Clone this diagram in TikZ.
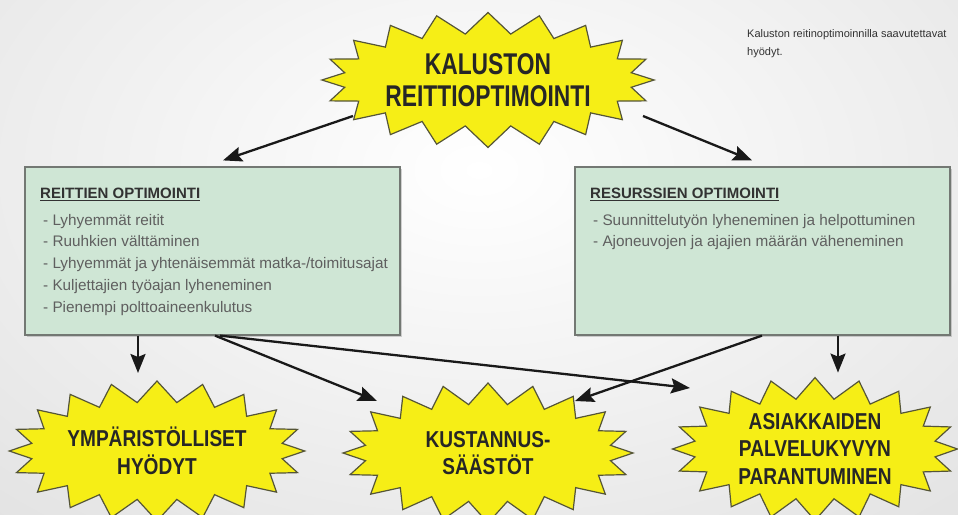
\documentclass[tikz,border=0pt]{standalone}
\usepackage{fontspec}
\setmainfont{Liberation Sans}
\newfontfamily\burstfont[FakeStretch=0.76]{Liberation Sans}
\newfontfamily\burstfontb[FakeStretch=0.83]{Liberation Sans}
\usetikzlibrary{shapes.symbols,arrows.meta,calc,shadows}
\definecolor{burstyellow}{RGB}{246,238,22}
\definecolor{burstline}{RGB}{85,85,55}
\definecolor{boxgreen}{RGB}{207,230,213}
\definecolor{boxline}{RGB}{115,120,115}
\definecolor{itemgray}{RGB}{95,95,95}
\definecolor{titlegray}{RGB}{50,50,50}
\definecolor{captiongray}{RGB}{50,50,50}
\begin{document}
\begin{tikzpicture}[x=1pt,y=-1pt,
  burst/.style={starburst, starburst points=20, starburst point height=21pt,
    random starburst=0, fill=burstyellow, draw=burstline, line width=1.2pt,
    align=center, text=black!85, inner sep=0pt},
  bigtext/.style={font=\burstfont\bfseries\fontsize{30}{32}\selectfont},
  smalltext/.style={font=\burstfontb\bfseries\fontsize{23}{27.5}\selectfont},
  greenbox/.style={draw=boxline, line width=1.2pt, fill=boxgreen, minimum height=168pt, inner sep=0pt,
    drop shadow={shadow xshift=1.5pt, shadow yshift=-2pt, opacity=0.35}},
  boxtitle/.style={anchor=base west, inner sep=0pt, text=titlegray, font=\bfseries\fontsize{15}{18}\selectfont},
  boxitem/.style={anchor=base west, inner sep=0pt, text=itemgray, font=\fontsize{15.3}{18}\selectfont},
  arr/.style={line width=2.3pt, draw=black!90, -{Stealth[length=19pt,width=15pt,inset=3pt]}}
]
\path[use as bounding box] (0,0) rectangle (958,514);
\clip (0,0) rectangle (958,514);
\shade[inner color=white, outer color=gray!22] (-250,-300) rectangle (1208,640);

% caption
\node[anchor=base west, inner sep=0pt, text=captiongray, font=\fontsize{11}{18}\selectfont, align=left] (cap) at (747,55) {Kaluston reitinoptimoinnilla saavutettavat\\hyödyt.};

% top starburst
\node[burst, bigtext, minimum width=290pt, minimum height=135pt] (top) at (488,80) {KALUSTON\\REITTIOPTIMOINTI};

% boxes
\node[greenbox, minimum width=375pt] (lbox) at (212.5,251) {};
\node[greenbox, minimum width=375pt] (rbox) at (762.5,251) {};

\node[boxtitle] (lt) at (40,198.5) {\underline{REITTIEN OPTIMOINTI}};
\node[boxitem] (l1) at (43,225) {- Lyhyemmät reitit};
\node[boxitem] (l2) at (43,246.75) {- Ruuhkien välttäminen};
\node[boxitem] (l3) at (43,268.5) {- Lyhyemmät ja yhtenäisemmät matka-/toimitusajat};
\node[boxitem] (l4) at (43,290.25) {- Kuljettajien työajan lyheneminen};
\node[boxitem] (l5) at (43,312) {- Pienempi polttoaineenkulutus};

\node[boxtitle] (rt) at (590,198.5) {\underline{RESURSSIEN OPTIMOINTI}};
\node[boxitem] (r1) at (593,225) {- Suunnittelutyön lyheneminen ja helpottuminen};
\node[boxitem] (r2) at (593,246.75) {- Ajoneuvojen ja ajajien määrän väheneminen};

% bottom starbursts
\node[burst, smalltext, minimum width=295pt, minimum height=140pt] (bl) at (157,451) {YMPÄRISTÖLLISET\\HYÖDYT};
\node[burst, smalltext, minimum width=290pt, minimum height=140pt] (bm) at (488,453) {KUSTANNUS-\\SÄÄSTÖT};
\node[burst, smalltext, minimum width=285pt, minimum height=140pt] (br) at (815,449) {ASIAKKAIDEN\\PALVELUKYVYN\\PARANTUMINEN};

% connectors
\draw[arr] ($(top)+(-135,36)$) -- ($(lbox.north)+(10.5,-6)$);
\draw[arr] ($(top)+(155,36)$) -- ($(rbox.north)+(-10.5,-6)$);
\draw[arr] ($(lbox.south)+(-74.5,0)$) -- ($(bl)+(-19,-78)$);
\draw[arr] ($(lbox.south)+(2.5,0)$) -- ($(bm)+(-111,-52)$);
\draw[arr] ($(lbox.south)+(7.5,0)$) -- ($(br)+(-125,-61)$);
\draw[arr] ($(rbox.south)+(-0.5,0)$) -- ($(bm)+(87,-52)$);
\draw[arr] ($(rbox.south)+(75.5,0)$) -- ($(rbox.south)+(75.5,37)$);
\end{tikzpicture}
\end{document}
